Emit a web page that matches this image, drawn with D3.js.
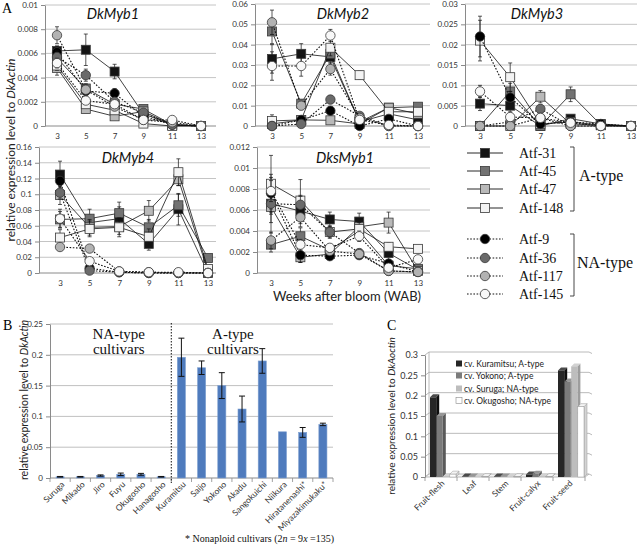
<!DOCTYPE html>
<html><head><meta charset="utf-8">
<script src="https://cdn.jsdelivr.net/npm/d3@7"></script>
<style>body{margin:0;background:#fff}svg{display:block}</style>
</head><body>
<svg id="chart" width="638" height="556"></svg>
<script>
// ---------- Panel A data ----------
const weeks = [3, 5, 7, 9, 11, 13];
const accessions = ["Atf-31", "Atf-45", "Atf-47", "Atf-148", "Atf-9", "Atf-36", "Atf-117", "Atf-145"];
const accessionTypes = ["A", "A", "A", "A", "NA", "NA", "NA", "NA"];
const genes = ["DkMyb1", "DkMyb2", "DkMyb3", "DkMyb4", "DksMyb1"];
const geneMax = [0.01, 0.06, 0.03, 0.16, 0.012];
const geneStep = [0.002, 0.01, 0.005, 0.02, 0.002];

const dkMyb1 = [
  [0.0062, 0.0063, 0.0045, 0.0010, 0.0001, 0.0000],
  [0.0056, 0.0031, 0.0018, 0.0014, 0.0001, 0.0000],
  [0.0048, 0.0014, 0.0008, 0.0012, 0.0001, 0.0000],
  [0.0050, 0.0018, 0.0013, 0.0002, 0.0000, 0.0000],
  [0.0061, 0.0029, 0.0027, 0.0008, 0.0001, 0.0000],
  [0.0057, 0.0042, 0.0020, 0.0011, 0.0001, 0.0000],
  [0.0075, 0.0030, 0.0016, 0.0005, 0.0003, 0.0000],
  [0.0052, 0.0021, 0.0018, 0.0005, 0.0005, 0.0000]
];
const dkMyb1Err = [
  [0.0004, 0.0013, 0.0006, 0.0002, 0, 0],
  [0.0005, 0.0004, 0.0003, 0.0002, 0, 0],
  [0.0006, 0.0003, 0.0002, 0.0002, 0, 0],
  [0.0004, 0.0002, 0.0002, 0.0001, 0, 0],
  [0.0005, 0.0004, 0.0004, 0.0002, 0, 0],
  [0.0005, 0.0005, 0.0003, 0.0002, 0, 0],
  [0.0007, 0.0004, 0.0003, 0.0001, 0, 0],
  [0.0004, 0.0003, 0.0003, 0.0001, 0.0001, 0]
];
const dkMyb2 = [
  [0.033, 0.0355, 0.034, 0.002, 0.006, 0.003],
  [0.0465, 0.011, 0.0355, 0.002, 0.009, 0.0095],
  [0.001, 0.003, 0.0028, 0.001, 0.009, 0.006],
  [0.0025, 0.003, 0.0385, 0.025, 0.007, 0.007],
  [0.000, 0.003, 0.0075, 0.000, 0.0035, 0.000],
  [0.000, 0.001, 0.013, 0.005, 0.000, 0.000],
  [0.051, 0.010, 0.028, 0.004, 0.000, 0.000],
  [0.0295, 0.0295, 0.0445, 0.003, 0.0005, 0.000]
];
const dkMyb2Err = [
  [0.007, 0.005, 0.003, 0.001, 0.002, 0.001],
  [0.006, 0.002, 0.003, 0.001, 0.001, 0.001],
  [0.001, 0.001, 0.001, 0, 0.001, 0.001],
  [0.003, 0.001, 0.004, 0.002, 0.001, 0.001],
  [0, 0.001, 0.002, 0, 0.001, 0],
  [0, 0.001, 0.002, 0.001, 0, 0],
  [0.006, 0.002, 0.003, 0.001, 0, 0],
  [0.007, 0.005, 0.003, 0.001, 0, 0]
];
const dkMyb3 = [
  [0.0055, 0.005, 0.0000, 0.0018, 0.0005, 0.0],
  [0.0, 0.0085, 0.0, 0.0078, 0.0003, 0.0],
  [0.0, 0.0, 0.0072, 0.0005, 0.0002, 0.0],
  [0.021, 0.012, 0.0005, 0.001, 0.0002, 0.0],
  [0.022, 0.007, 0.0005, 0.001, 0.0005, 0.0],
  [0.0, 0.001, 0.0042, 0.0, 0.0, 0.0],
  [0.0, 0.0, 0.002, 0.0, 0.0, 0.0],
  [0.0085, 0.0022, 0.002, 0.0008, 0.0, 0.0]
];
const dkMyb3Err = [
  [0.0017, 0.0015, 0, 0.0005, 0.0002, 0],
  [0, 0.002, 0, 0.0018, 0, 0],
  [0, 0, 0.0015, 0.0002, 0, 0],
  [0.005, 0.0035, 0, 0.0003, 0, 0],
  [0.005, 0.0015, 0.0002, 0.0003, 0.0002, 0],
  [0, 0.0005, 0.001, 0, 0, 0],
  [0, 0, 0.0005, 0, 0, 0],
  [0.0015, 0.001, 0.0005, 0.0002, 0, 0]
];
const dkMyb4 = [
  [0.125, 0.064, 0.069, 0.037, 0.081, 0.000],
  [0.068, 0.069, 0.076, 0.058, 0.086, 0.019],
  [0.099, 0.058, 0.059, 0.079, 0.119, 0.002],
  [0.045, 0.056, 0.058, 0.046, 0.128, 0.005],
  [0.117, 0.006, 0.001, 0.000, 0.000, 0.000],
  [0.102, 0.003, 0.001, 0.000, 0.000, 0.000],
  [0.033, 0.031, 0.002, 0.001, 0.000, 0.000],
  [0.069, 0.015, 0.002, 0.001, 0.001, 0.000]
];
const dkMyb4Err = [
  [0.017, 0.01, 0.015, 0.008, 0.02, 0],
  [0.01, 0.012, 0.014, 0.01, 0.014, 0.002],
  [0.012, 0.01, 0.01, 0.013, 0.008, 0.001],
  [0.01, 0.01, 0.012, 0.01, 0.017, 0.002],
  [0.012, 0.002, 0, 0, 0, 0],
  [0.008, 0.001, 0, 0, 0, 0],
  [0.004, 0.003, 0, 0, 0, 0],
  [0.012, 0.003, 0, 0, 0, 0]
];
const dksMyb1 = [
  [0.0066, 0.0059, 0.0051, 0.0049, 0.0019, 0.0003],
  [0.0027, 0.0035, 0.0022, 0.0040, 0.0007, 0.0004],
  [0.0063, 0.0015, 0.0018, 0.0044, 0.0048, 0.0002],
  [0.0085, 0.0069, 0.0039, 0.0042, 0.0025, 0.0023],
  [0.0076, 0.0017, 0.0016, 0.0017, 0.0009, 0.0001],
  [0.0066, 0.0065, 0.0039, 0.0019, 0.0002, 0.0001],
  [0.0031, 0.0053, 0.0021, 0.0018, 0.0002, 0.0001],
  [0.0078, 0.0027, 0.0024, 0.0035, 0.0005, 0.0013]
];
const dksMyb1Err = [
  [0.0028, 0.0015, 0.0007, 0.0008, 0.001, 0.0001],
  [0.0007, 0.0008, 0.0005, 0.0006, 0.0003, 0.0001],
  [0.0015, 0.0005, 0.0004, 0.0005, 0.001, 0.0001],
  [0.0027, 0.002, 0.0006, 0.0006, 0.0004, 0.0003],
  [0.0015, 0.0007, 0.0003, 0.0003, 0.0003, 0],
  [0.001, 0.0008, 0.0005, 0.0003, 0.0001, 0],
  [0.0008, 0.0006, 0.0003, 0.0003, 0.0001, 0],
  [0.001, 0.0005, 0.0004, 0.0005, 0.0002, 0.0002]
];
const geneValues = [dkMyb1, dkMyb2, dkMyb3, dkMyb4, dksMyb1];
const geneErrors = [dkMyb1Err, dkMyb2Err, dkMyb3Err, dkMyb4Err, dksMyb1Err];

// ---------- Panel B data ----------
const cultivars = ["Suruga", "Mikado", "Jiro", "Fuyu", "Okugosho", "Hanagosho", "Kuramitsu", "Saijo", "Yokono", "Akadu", "Sangokuichi", "Niikura", "Hiratanenashi*", "Miyazakimukaku*"];
const cultivarValues = [0.002, 0.002, 0.004, 0.006, 0.006, 0.002, 0.196, 0.179, 0.150, 0.112, 0.190, 0.075, 0.074, 0.087];
const cultivarErrors = [0.0005, 0.0005, 0.001, 0.002, 0.0015, 0.0005, 0.031, 0.011, 0.021, 0.021, 0.020, 0, 0.008, 0.002];
const cultivarTicks = [0, 0.05, 0.1, 0.15, 0.2, 0.25];

// ---------- Panel C data ----------
const tissues = ["Fruit-flesh", "Leaf", "Stem", "Fruit-calyx", "Fruit-seed"];
const tissueSeries = ["cv. Kuramitsu; A-type", "cv. Yokono; A-type", "cv. Suruga; NA-type", "cv. Okugosho; NA-type"];
const kuramitsuTissue = [0.196, 0.001, 0.001, 0.006, 0.262];
const yokonoTissue = [0.150, 0.001, 0.001, 0.008, 0.235];
const surugaTissue = [0.002, 0.001, 0.001, 0.002, 0.272];
const okugoshoTissue = [0.007, 0.001, 0.001, 0.001, 0.173];
const tissueTicks = [0, 0.05, 0.1, 0.15, 0.2, 0.25, 0.3];

// ---------- drawing ----------
const svg = d3.select("#chart");
const SANS = "Lato, 'DejaVu Sans', sans-serif";
const SERIF = "'Liberation Serif', 'DejaVu Serif', serif";
const fmt = d => String(+d.toFixed(6));

const markerFill = ["#141414", "#727272", "#b9b9b9", "#f3f3f3", "#000000", "#6a6a6a", "#b2b2b2", "#f8f8f8"];
const markerStroke = "#3a3a3a";

const panels = [
  {x0: 45, x1: 216, top: 5, bot: 126, p0: 57, p1: 201, tx: 113, ty: 19},
  {x0: 255, x1: 430, top: 4, bot: 126, p0: 272, p1: 418, tx: 343, ty: 19},
  {x0: 465, x1: 637, top: 4, bot: 126, p0: 480, p1: 631, tx: 537, ty: 19},
  {x0: 39, x1: 216, top: 147, bot: 273, p0: 60, p1: 208, tx: 128, ty: 163},
  {x0: 257, x1: 430, top: 147, bot: 273, p0: 271, p1: 418, tx: 345, ty: 163}
];

function drawMarker(sel, i, cx, cy) {
  if (accessionTypes[i] === "A") {
    sel.append("rect").attr("x", cx - 4.5).attr("y", cy - 4.5).attr("width", 9).attr("height", 9)
      .attr("fill", markerFill[i]).attr("stroke", markerStroke).attr("stroke-width", 0.8);
  } else {
    sel.append("circle").attr("cx", cx).attr("cy", cy).attr("r", 4.7)
      .attr("fill", markerFill[i]).attr("stroke", markerStroke).attr("stroke-width", 0.8);
  }
}

genes.forEach((gene, gi) => {
  const cfg = panels[gi];
  const g = svg.append("g");
  const x = d3.scalePoint().domain(weeks).range([cfg.p0, cfg.p1]);
  const y = d3.scaleLinear().domain([0, geneMax[gi]]).range([cfg.bot, cfg.top]);
  const ticks = d3.range(0, geneMax[gi] + geneStep[gi] / 2, geneStep[gi]);
  g.selectAll("line.grid").data(ticks.slice(1)).join("line")
    .attr("x1", cfg.x0).attr("x2", cfg.x1).attr("y1", d => y(d)).attr("y2", d => y(d))
    .attr("stroke", "#b5b5b5").attr("stroke-width", 0.8);
  const ya = g.append("g").attr("transform", `translate(${cfg.x0},0)`)
    .call(d3.axisLeft(y).tickValues(ticks).tickSize(4).tickSizeOuter(0).tickFormat(fmt));
  ya.select(".domain").attr("stroke", "#8a8a8a");
  ya.selectAll(".tick line").attr("stroke", "#8a8a8a");
  ya.selectAll("text").attr("font-family", SANS).attr("font-size", 8).attr("fill", "#333");
  const xa = g.append("g").attr("transform", `translate(0,${cfg.bot})`)
    .call(d3.axisBottom(x).tickSize(0).tickPadding(7));
  xa.select(".domain").attr("d", `M${cfg.x0},0H${cfg.x1}`).attr("stroke", "#8a8a8a");
  xa.selectAll("text").attr("font-family", SANS).attr("font-size", 8).attr("fill", "#333");

  g.append("text").attr("x", cfg.tx).attr("y", cfg.ty).attr("text-anchor", "middle")
    .attr("font-family", SANS).attr("font-style", "italic").attr("font-size", 14.5).attr("fill", "#111")
    .text(gene);

  const vals = geneValues[gi], errs = geneErrors[gi];
  const line = d3.line().x((d, k) => x(weeks[k])).y(d => y(d));
  accessions.forEach((acc, i) => {
    const sg = g.append("g");
    sg.append("path").attr("d", line(vals[i])).attr("fill", "none").attr("stroke", "#111")
      .attr("stroke-width", accessionTypes[i] === "A" ? 0.8 : 1.1)
      .attr("stroke-dasharray", accessionTypes[i] === "A" ? null : "1.6,1.6");
    vals[i].forEach((v, k) => {
      const e = errs[i][k];
      if (e > 0) {
        const cx = x(weeks[k]);
        const y1 = y(v + e), y2 = y(Math.max(0, v - e));
        sg.append("path").attr("d", `M${cx},${y1}V${y2}M${cx - 2},${y1}H${cx + 2}M${cx - 2},${y2}H${cx + 2}`)
          .attr("stroke", "#111").attr("stroke-width", 0.7).attr("fill", "none");
      }
    });
    vals[i].forEach((v, k) => drawMarker(sg, i, x(weeks[k]), y(v)));
  });
});

// panel A labels
svg.append("text").attr("x", 2).attr("y", 13).attr("font-family", SERIF).attr("font-size", 14).text("A");
const yl = svg.append("text").attr("transform", "translate(15,150) rotate(-90)").attr("text-anchor", "middle")
  .attr("font-family", SANS).attr("font-size", 12).attr("fill", "#222");
yl.append("tspan").text("relative expression level to ");
yl.append("tspan").attr("font-style", "italic").text("DkActin");
svg.append("text").attr("x", 347).attr("y", 301).attr("text-anchor", "middle")
  .attr("font-family", SANS).attr("font-size", 13).attr("fill", "#222").text("Weeks after bloom (WAB)");

// legend A
const legendRows = [153, 171, 189, 208, 239, 258, 276, 294];
accessions.forEach((acc, i) => {
  const lg = svg.append("g");
  const ly = legendRows[i];
  lg.append("line").attr("x1", 467).attr("x2", 503).attr("y1", ly).attr("y2", ly).attr("stroke", "#111")
    .attr("stroke-width", accessionTypes[i] === "A" ? 0.9 : 1.1)
    .attr("stroke-dasharray", accessionTypes[i] === "A" ? null : "1.6,1.6");
  drawMarker(lg, i, 485, ly);
  lg.append("text").attr("x", 519).attr("y", ly + 5).attr("font-family", SERIF).attr("font-size", 14)
    .attr("fill", "#111").text(acc);
});
svg.append("path").attr("d", "M570,147H574V211H570").attr("fill", "none").attr("stroke", "#333").attr("stroke-width", 0.9);
svg.append("path").attr("d", "M570,234H574V296H570").attr("fill", "none").attr("stroke", "#333").attr("stroke-width", 0.9);
svg.append("text").attr("x", 579).attr("y", 181).attr("font-family", SERIF).attr("font-size", 16).attr("fill", "#111").text("A-type");
svg.append("text").attr("x", 577).attr("y", 268).attr("font-family", SERIF).attr("font-size", 16).attr("fill", "#111").text("NA-type");

// ---------- Panel B ----------
{
  const g = svg.append("g");
  const xb = d3.scaleBand().domain(cultivars).range([50, 333]).padding(0);
  const yb = d3.scaleLinear().domain([0, 0.25]).range([478, 324]);
  g.selectAll("line.grid").data(cultivarTicks.slice(1)).join("line")
    .attr("x1", 50).attr("x2", 333).attr("y1", d => yb(d)).attr("y2", d => yb(d))
    .attr("stroke", "#b0b0b0").attr("stroke-width", 0.8);
  const ya = g.append("g").attr("transform", "translate(50,0)")
    .call(d3.axisLeft(yb).tickValues(cultivarTicks).tickSize(4).tickSizeOuter(0).tickFormat(fmt));
  ya.select(".domain").attr("stroke", "#8a8a8a");
  ya.selectAll(".tick line").attr("stroke", "#8a8a8a");
  ya.selectAll("text").attr("font-family", SANS).attr("font-size", 8).attr("fill", "#333");
  const xa = g.append("g").attr("transform", "translate(0,478)")
    .call(d3.axisBottom(xb).tickSize(0).tickFormat(""));
  xa.select(".domain").attr("d", "M50,0H333").attr("stroke", "#8a8a8a");
  g.selectAll("line.bt").data(d3.range(cultivars.length + 1)).join("line")
    .attr("x1", d => 50 + d * xb.step()).attr("x2", d => 50 + d * xb.step())
    .attr("y1", 478).attr("y2", 482).attr("stroke", "#8a8a8a").attr("stroke-width", 0.8);
  const bw = xb.bandwidth();
  g.selectAll("rect.bar").data(cultivars).join("rect")
    .attr("x", d => xb(d) + bw * 0.3).attr("width", bw * 0.4)
    .attr("y", (d, i) => yb(cultivarValues[i])).attr("height", (d, i) => 478 - yb(cultivarValues[i]))
    .attr("fill", "#4f7bbd").attr("stroke", "#7d9fd0").attr("stroke-width", 0.6);
  cultivars.forEach((c, i) => {
    const e = cultivarErrors[i];
    if (e > 0) {
      const cx = xb(c) + bw / 2, v = cultivarValues[i];
      const y1 = yb(v + e), y2 = yb(Math.max(0, v - e));
      g.append("path").attr("d", `M${cx},${y1}V${y2}M${cx - 3},${y1}H${cx + 3}M${cx - 3},${y2}H${cx + 3}`)
        .attr("stroke", "#111").attr("stroke-width", 1).attr("fill", "none");
    }
  });
  cultivars.forEach((c, i) => {
    g.append("text").attr("transform", `translate(${xb(c) + bw / 2 + 5},485) rotate(-45)`)
      .attr("text-anchor", "end").attr("font-family", SANS).attr("font-size", 8.5).attr("fill", "#333").text(c);
  });
  const divX = 50 + 6 * xb.step();
  g.append("line").attr("x1", divX).attr("x2", divX).attr("y1", 323).attr("y2", 483)
    .attr("stroke", "#111").attr("stroke-width", 1).attr("stroke-dasharray", "1.5,1.5");
  const midNA = 50 + 3.4 * xb.step(), midA = 50 + 9.05 * xb.step();
  [["NA-type", midNA, 339], ["cultivars", midNA, 354], ["A-type", midA, 339], ["cultivars", midA, 354]].forEach(t => {
    g.append("text").attr("x", t[1]).attr("y", t[2]).attr("text-anchor", "middle")
      .attr("font-family", SERIF).attr("font-size", 15).attr("fill", "#111").text(t[0]);
  });
  svg.append("text").attr("x", 3).attr("y", 330).attr("font-family", SERIF).attr("font-size", 14).text("B");
  const ylb = svg.append("text").attr("transform", "translate(28,400) rotate(-90)").attr("text-anchor", "middle")
    .attr("font-family", SANS).attr("font-size", 10.5).attr("fill", "#222");
  ylb.append("tspan").text("relative expression level to ");
  ylb.append("tspan").attr("font-style", "italic").text("DkActin");
  const fn = svg.append("text").attr("x", 185).attr("y", 542).attr("font-family", SERIF).attr("font-size", 10).attr("fill", "#111");
  fn.append("tspan").text("* Nonaploid cultivars (2");
  fn.append("tspan").attr("font-style", "italic").text("n");
  fn.append("tspan").text(" = 9");
  fn.append("tspan").attr("font-style", "italic").text("x");
  fn.append("tspan").text(" =135)");
}

// ---------- Panel C ----------
{
  const g = svg.append("g");
  const dx = 4, dy = -3;
  const xc = d3.scaleBand().domain(tissues).range([425, 585]).padding(0);
  const yc = d3.scaleLinear().domain([0, 0.3]).range([477, 355]);
  const series = [kuramitsuTissue, yokonoTissue, surugaTissue, okugoshoTissue];
  const front = ["#262626", "#7b7b7b", "#bdbdbd", "#ffffff"];
  const side = ["#0e0e0e", "#5a5a5a", "#9d9d9d", "#d4d4d4"];
  const topc = ["#4a4a4a", "#979797", "#d2d2d2", "#f4f4f4"];
  g.selectAll("line.grid").data(tissueTicks.slice(1)).join("line")
    .attr("x1", 425 + dx).attr("x2", 589).attr("y1", d => yc(d) + dy).attr("y2", d => yc(d) + dy)
    .attr("stroke", "#a8a8a8").attr("stroke-width", 0.8);
  g.selectAll("line.dep").data(tissueTicks).join("line")
    .attr("x1", 425).attr("x2", 425 + dx).attr("y1", d => yc(d)).attr("y2", d => yc(d) + dy)
    .attr("stroke", "#a8a8a8").attr("stroke-width", 0.8);
  g.selectAll("line.rt").data(tissueTicks).join("line")
    .attr("x1", 589).attr("x2", 592).attr("y1", d => yc(d) + dy).attr("y2", d => yc(d) + dy + 1.5)
    .attr("stroke", "#a8a8a8").attr("stroke-width", 0.8);
  g.append("line").attr("x1", 425 + dx).attr("x2", 425 + dx).attr("y1", yc(0.3) + dy).attr("y2", yc(0) + dy)
    .attr("stroke", "#a8a8a8").attr("stroke-width", 0.8);
  g.append("path").attr("d", `M425,${yc(0)}L${425 + dx},${yc(0) + dy}H589L585,${yc(0)}Z`)
    .attr("fill", "#f4f4f4").attr("stroke", "#a8a8a8").attr("stroke-width", 0.8);
  const ya = g.append("g").attr("transform", "translate(425,0)")
    .call(d3.axisLeft(yc).tickValues(tissueTicks).tickSize(4).tickSizeOuter(0).tickFormat(fmt));
  ya.select(".domain").attr("stroke", "#8a8a8a");
  ya.selectAll(".tick line").attr("stroke", "#8a8a8a");
  ya.selectAll("text").attr("font-family", SANS).attr("font-size", 9).attr("fill", "#333");
  g.selectAll("line.bt").data(d3.range(tissues.length + 1)).join("line")
    .attr("x1", d => 425 + d * xc.step()).attr("x2", d => 425 + d * xc.step())
    .attr("y1", 477).attr("y2", 481).attr("stroke", "#8a8a8a").attr("stroke-width", 0.8);
  const bw = 6.2, bdx = 3, bdy = -3;
  tissues.forEach((t, ti) => {
    series.forEach((s, si) => {
      const bx = xc(t) + 5 + si * 6.6;
      const by = yc(s[ti]);
      const h = 477 - by;
      const bg = g.append("g");
      bg.append("path").attr("d", `M${bx + bw},${by}l${bdx},${bdy}v${h}l${-bdx},${-bdy}Z`)
        .attr("fill", side[si]).attr("stroke", si === 3 ? "#999" : "none").attr("stroke-width", 0.5);
      bg.append("path").attr("d", `M${bx},${by}l${bdx},${bdy}h${bw}l${-bdx},${-bdy}Z`)
        .attr("fill", topc[si]).attr("stroke", si === 3 ? "#999" : "none").attr("stroke-width", 0.5);
      bg.append("rect").attr("x", bx).attr("y", by).attr("width", bw).attr("height", h)
        .attr("fill", front[si]).attr("stroke", si === 3 ? "#999" : "none").attr("stroke-width", 0.5);
    });
    g.append("text").attr("transform", `translate(${xc(t) + xc.step() / 2 + 4},484) rotate(-45)`)
      .attr("text-anchor", "end").attr("font-family", SANS).attr("font-size", 8.5).attr("fill", "#333").text(t);
  });
  const lrows = [364, 376, 389, 401];
  tissueSeries.forEach((name, si) => {
    g.append("rect").attr("x", 456).attr("y", lrows[si] - 3.5).attr("width", 6).attr("height", 6)
      .attr("fill", front[si]).attr("stroke", si === 3 ? "#888" : "none").attr("stroke-width", 0.6);
    g.append("text").attr("x", 464).attr("y", lrows[si] + 3).attr("font-family", SANS).attr("font-size", 8.5)
      .attr("fill", "#222").text(name);
  });
  svg.append("text").attr("x", 387).attr("y", 330).attr("font-family", SERIF).attr("font-size", 14).text("C");
  const ylc = svg.append("text").attr("transform", "translate(395,416) rotate(-90)").attr("text-anchor", "middle")
    .attr("font-family", SANS).attr("font-size", 10).attr("fill", "#222");
  ylc.append("tspan").text("relative expression level to ");
  ylc.append("tspan").attr("font-style", "italic").text("DkAoctin");
}
</script>
</body></html>
